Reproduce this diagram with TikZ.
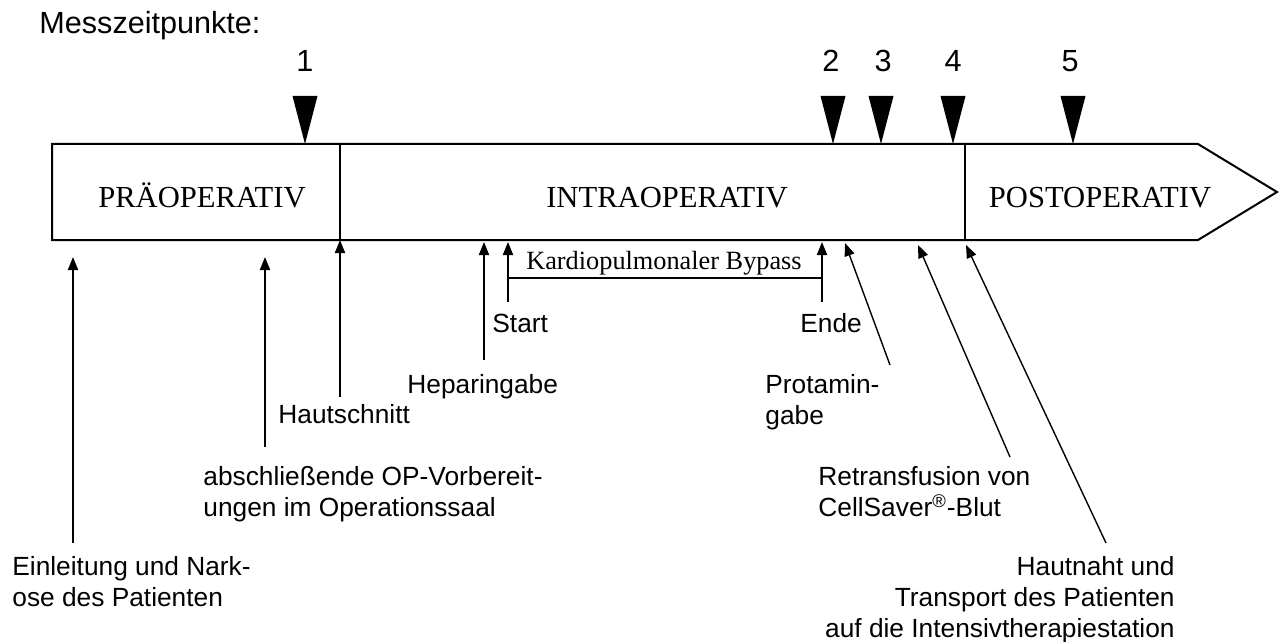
\documentclass[tikz,border=0pt]{standalone}
\usepackage{fontspec}
\setmainfont{Liberation Serif}
\setsansfont{Liberation Sans}
\usetikzlibrary{arrows.meta}

\begin{document}
\begin{tikzpicture}[x=0.5pt,y=-0.5pt,
    lbl/.style={font=\sffamily\fontsize{13.15pt}{15.5pt}\selectfont,inner sep=0pt},
    phase/.style={font=\fontsize{15.3pt}{18pt}\selectfont,inner sep=0pt,anchor=base},
    pin/.style={line width=1pt,-{Triangle[length=6.5pt,width=5pt]}},
    slant/.style={line width=0.7pt,-{Triangle[length=6.5pt,width=5pt]}}]
\useasboundingbox (0,0) rectangle (1280,642);

\node[font=\sffamily\fontsize{15.3pt}{18pt}\selectfont,inner sep=0pt,anchor=base west] (title) at (39,34) {Messzeitpunkte:};

% time band
\draw[line width=1pt] (52,144) -- (1198,144) -- (1277,192) -- (1198,240) -- (52,240) -- cycle;
\draw[line width=1pt] (340,144) -- (340,240) (965,144) -- (965,240);
\node[phase] (prae) at (202,207) {PRÄOPERATIV};
\node[phase] (intra) at (667,207) {INTRAOPERATIV};
\node[phase] (post) at (1100,207) {POSTOPERATIV};

% measurement points
\foreach \x/\t/\n in {305/305/1,833/831/2,881/883/3,953/953/4,1073/1070/5}{
    \fill (\x-12.5,96) -- (\x+12.5,96) -- (\x,144) -- cycle;
    \node[font=\sffamily\fontsize{15.3pt}{18pt}\selectfont,inner sep=0pt,anchor=base] (m\n) at (\t,72) {\n};
}

% events (base = last line)
\node[lbl,anchor=base west,align=left] (einl) at (12,606) {Einleitung und Nark-\\ose des Patienten};
\node[lbl,anchor=base west,align=left] (vorb) at (203,516) {abschließende OP-Vorbereit-\\ungen im Operationssaal};
\node[lbl,anchor=base west] (schnitt) at (278,423) {Hautschnitt};
\node[lbl,anchor=base west] (hep) at (407,393) {Heparingabe};
\node[lbl,anchor=base west] (start) at (492,332) {Start};
\node[lbl,anchor=base west] (ende) at (800,332) {Ende};
\node[lbl,anchor=base west,align=left] (prot) at (765,424) {Protamin-\\gabe};
\node[lbl,anchor=base west,align=left] (retr) at (818,516) {Retransfusion von\\CellSaver\textsuperscript{®}-Blut};
\node[lbl,anchor=base east,align=right] (naht) at (1175,637) {Hautnaht und\\Transport des Patienten\\auf die Intensivtherapiestation};
\node[font=\fontsize{13.15pt}{15pt}\selectfont,inner sep=0pt,anchor=base] (cpb) at (664,269) {Kardiopulmonaler Bypass};

\coordinate (einlA) at (73,257);   \coordinate (einlB) at (73,543);
\coordinate (vorbA) at (265,257);  \coordinate (vorbB) at (265,447);
\coordinate (schnittA) at (340,240); \coordinate (schnittB) at (340,397);
\coordinate (hepA) at (484,242);   \coordinate (hepB) at (484,360);
\coordinate (startA) at (508,242); \coordinate (startB) at (508,302);
\coordinate (endeA) at (822,242);  \coordinate (endeB) at (822,302);
\coordinate (protA) at (845,243);  \coordinate (protB) at (890,365);
\coordinate (retrA) at (918,245);  \coordinate (retrB) at (1010,457);
\coordinate (nahtA) at (966,245);  \coordinate (nahtB) at (1106,543);

\draw[pin] (einlB) -- (einlA);
\draw[pin] (vorbB) -- (vorbA);
\draw[pin] (schnittB) -- (schnittA);
\draw[pin] (hepB) -- (hepA);
\draw[pin] (startB) -- (startA);
\draw[pin] (endeB) -- (endeA);
\draw[line width=1pt] (startA |- 0,278) -- (endeA |- 0,278);
\draw[slant] (protB) -- (protA);
\draw[slant] (retrB) -- (retrA);
\draw[slant] (nahtB) -- (nahtA);
\end{tikzpicture}
\end{document}
